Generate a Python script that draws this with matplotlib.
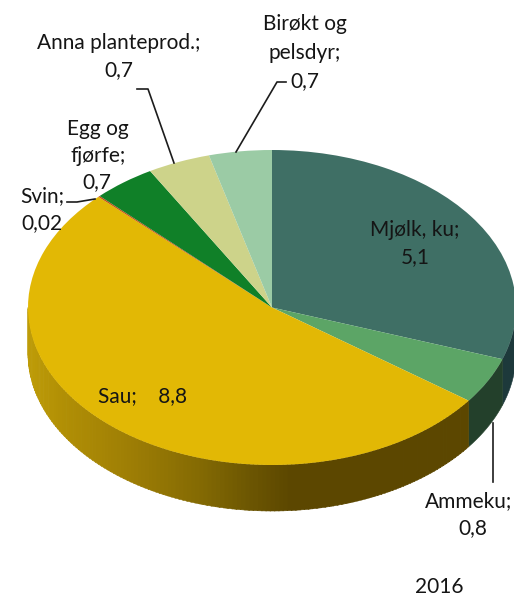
import numpy as np
import matplotlib
matplotlib.use("Agg")
import matplotlib.pyplot as plt

# chart values, clockwise from 12 o'clock
categories = ["Mjølk, ku", "Ammeku", "Sau", "Svin", "Egg og fjørfe", "Anna planteprod.", "Birøkt og pelsdyr"]
values = [5.1, 0.8, 8.8, 0.02, 0.7, 0.7, 0.7]
year = "2016"

top_colors = ["#3f6f65", "#5ca566", "#e2b805", "#c8500f", "#108028", "#cdd38a", "#9bcba5"]
side_colors = ["#1d393b", "#23402b", None, "#6a3000", "#0a4a18", "#77794f", "#5a7660"]

W, H = 514, 598
CX, CY = 272, 307.5
RX, RY = 244, 157.5
DEPTH = 46 / RY

plt.rcParams["font.family"] = ["Lato", "DejaVu Sans"]

fig = plt.figure(figsize=(W / 100, H / 100), dpi=100)
ax = fig.add_axes([0, 0, 1, 1])


def px(x, y):
    # reference pixel -> data coords of the unit pie
    return (x - CX) / RX, (CY - y) / RY


def wall(t0, t1, color):
    t = np.radians(np.linspace(t0, t1, 12))
    xs = np.sin(t)
    ys = np.cos(t)
    ax.fill(np.r_[xs, xs[::-1]], np.r_[ys, ys[::-1] - DEPTH], color=color, lw=0.4, zorder=1)


def sau_shade(x_px):
    stops = [28, 60, 130, 200, 250, 290]
    reds = [190, 178, 158, 132, 108, 92]
    greens = [156, 144, 126, 106, 86, 71]
    blues = [8, 5, 5, 3, 2, 0]
    return (np.interp(x_px, stops, reds) / 255,
            np.interp(x_px, stops, greens) / 255,
            np.interp(x_px, stops, blues) / 255)


# side of the cake, only the front half shows
edges = np.cumsum([0] + values) / sum(values) * 360
for i in range(len(values)):
    t0 = max(edges[i], 90)
    t1 = min(edges[i + 1], 270)
    if t1 <= t0:
        continue
    if side_colors[i] is not None:
        wall(t0, t1, side_colors[i])
    else:
        steps = np.arange(t0, t1, 1.0)
        for a in steps:
            mid_x = CX + RX * np.sin(np.radians(a + 0.5))
            wall(a, min(a + 1.2, t1), sau_shade(mid_x))

ax.pie(values, colors=top_colors, startangle=90, counterclock=False, radius=1,
       wedgeprops={"linewidth": 0, "zorder": 3})
ax.set_aspect("auto")
ax.set_xlim(px(0, 0)[0], px(W, 0)[0])
ax.set_ylim(px(0, H)[1], px(0, 0)[1])
ax.axis("off")

# leader lines
leaders = [
    [(236, 152), (277, 82), (286, 82)],
    [(174, 163), (148, 89), (137, 89)],
    [(67, 202), (77, 202), (95, 199)],
    [(493, 423), (493, 482)],
]
for pts in leaders:
    xy = np.array([px(*p) for p in pts])
    ax.plot(xy[:, 0], xy[:, 1], color="#1c1c1c", lw=1.2, zorder=5)

# labels, line by line
labels = [
    ("Birøkt og", 305, 24), ("pelsdyr;", 305, 53), ("0,7", 305, 81),
    ("Anna planteprod.;", 119, 43), ("0,7", 119, 70),
    ("Egg og", 98, 129), ("fjørfe;", 98, 156), ("0,7", 97, 182),
    ("Svin;", 42, 196), ("0,02", 42, 223),
    ("Mjølk, ku;", 415, 230), ("5,1", 415, 257),
    ("Sau;    8,8", 143, 396),
    ("Ammeku;", 469, 501), ("0,8", 473, 528),
    (year, 439, 587),
]
for txt, x, y in labels:
    lx, ly = px(x, y)
    ax.text(lx, ly, txt, ha="center", va="center", fontsize=15, color="#151515", zorder=6)

fig.savefig("out.png", dpi=100)
